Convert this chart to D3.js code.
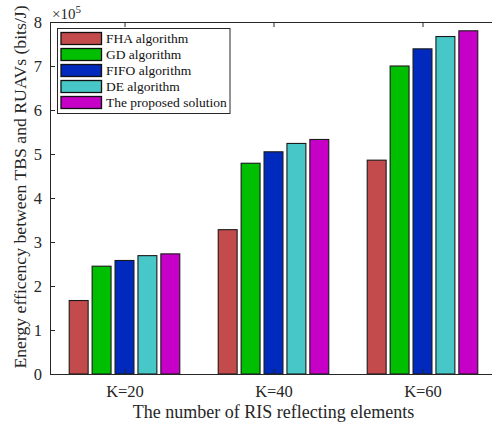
<!DOCTYPE html>
<html>
<head>
<meta charset="utf-8">
<script src="https://cdn.jsdelivr.net/npm/d3@7"></script>
<style>
  body { margin: 0; background: #fff; }
  svg { display: block; font-family: "Liberation Serif", "Times New Roman", serif; }
</style>
</head>
<body>
<div id="chart"></div>
<script>
// values in units of 1e5 bits/J
const groups = ['K=20', 'K=40', 'K=60'];
const seriesNames = ['FHA algorithm', 'GD algorithm', 'FIFO algorithm', 'DE algorithm', 'The proposed solution'];
const seriesColors = ['#c44b4b', '#00bf00', '#0029bd', '#47c7c7', '#c700c7'];
const fha = [1.67, 3.28, 4.86];
const gd = [2.45, 4.79, 7.00];
const fifo = [2.58, 5.05, 7.39];
const de = [2.69, 5.24, 7.67];
const proposed = [2.73, 5.33, 7.80];
const yTicks = [0, 1, 2, 3, 4, 5, 6, 7, 8];

const series = [fha, gd, fifo, de, proposed];

const width = 492, height = 425;
const margin = { top: 22, right: -5, bottom: 51, left: 50 };
const innerW = width - margin.left - margin.right;
const innerH = height - margin.top - margin.bottom;

const svg = d3.select('#chart').append('svg')
  .attr('width', width)
  .attr('height', height);

const g = svg.append('g')
  .attr('transform', `translate(${margin.left},${margin.top})`);

// group positions 1..3 on [0.5, 3.5] like MATLAB bar()
const x = d3.scaleLinear().domain([0.5, 3.5]).range([0, innerW]);
const y = d3.scaleLinear().domain([0, 8]).range([innerH, 0]);
const groupSpan = (x(1.5) - x(0.5)) * 0.742;
const inner = d3.scaleBand()
  .domain(d3.range(series.length))
  .range([-groupSpan / 2, groupSpan / 2])
  .paddingInner(0.174);

const axisColor = '#262626';

// bars
series.forEach((vals, si) => {
  g.append('g')
    .selectAll('rect')
    .data(vals)
    .join('rect')
    .attr('x', (d, i) => x(i + 1) + inner(si))
    .attr('y', d => y(d))
    .attr('width', inner.bandwidth())
    .attr('height', d => innerH - y(d))
    .attr('fill', seriesColors[si])
    .attr('stroke', '#1a1a1a')
    .attr('stroke-width', 1.1);
});

// axes (ticks inward, MATLAB-style box)
const tickFont = '16.5px';
const yAxis = g.append('g')
  .call(d3.axisLeft(y).tickValues(yTicks).tickSize(-5).tickPadding(8).tickFormat(d3.format('d')));
yAxis.selectAll('text').attr('font-size', tickFont).attr('fill', axisColor)
  .attr('font-family', '"Liberation Serif", serif');

const yAxisR = g.append('g')
  .attr('transform', `translate(${innerW},0)`)
  .call(d3.axisRight(y).tickValues(yTicks).tickSize(-5).tickFormat(''));

const xAxis = g.append('g')
  .attr('transform', `translate(0,${innerH})`)
  .call(d3.axisBottom(x).tickValues([1, 2, 3]).tickSize(-5).tickPadding(11.5)
    .tickFormat((d, i) => groups[i]));
xAxis.selectAll('text').attr('font-size', tickFont).attr('fill', axisColor)
  .attr('font-family', '"Liberation Serif", serif');

const xAxisT = g.append('g')
  .call(d3.axisTop(x).tickValues([1, 2, 3]).tickSize(-5).tickFormat(''));

[yAxis, yAxisR, xAxis, xAxisT].forEach(a => {
  a.select('.domain').attr('stroke', axisColor).attr('stroke-width', 1);
  a.selectAll('.tick line').attr('stroke', axisColor).attr('stroke-width', 1);
});

// exponent label
svg.append('text')
  .attr('x', 52)
  .attr('y', 18.5)
  .attr('font-size', '15px')
  .attr('fill', axisColor)
  .text('\u00d710')
  .append('tspan')
  .attr('font-size', '11px')
  .attr('dy', -6)
  .text('5');

// axis labels
svg.append('text')
  .attr('x', margin.left + x(2))
  .attr('y', 417.5)
  .attr('text-anchor', 'middle')
  .attr('font-size', '18px')
  .attr('fill', axisColor)
  .text('The number of RIS reflecting elements');

svg.append('text')
  .attr('transform', 'translate(26,187) rotate(-90)')
  .attr('text-anchor', 'middle')
  .attr('font-size', '17.7px')
  .attr('fill', axisColor)
  .text('Energy efficency between TBS and RUAVs (bits/J)');

// legend
const legend = svg.append('g').attr('transform', 'translate(57.5,28.5)');
legend.append('rect')
  .attr('width', 172.5)
  .attr('height', 85)
  .attr('fill', '#fff')
  .attr('stroke', axisColor)
  .attr('stroke-width', 1);

const rows = legend.selectAll('g.row')
  .data(seriesNames)
  .join('g')
  .attr('class', 'row')
  .attr('transform', (d, i) => `translate(0,${10 + i * 16})`);

rows.append('rect')
  .attr('x', 3.5)
  .attr('y', -6)
  .attr('width', 40.5)
  .attr('height', 12)
  .attr('fill', (d, i) => seriesColors[i])
  .attr('stroke', '#111')
  .attr('stroke-width', 1.3);

rows.append('text')
  .attr('x', 48.5)
  .attr('y', 4.7)
  .attr('font-size', '13.5px')
  .attr('fill', '#111')
  .text(d => d);
</script>
</body>
</html>
